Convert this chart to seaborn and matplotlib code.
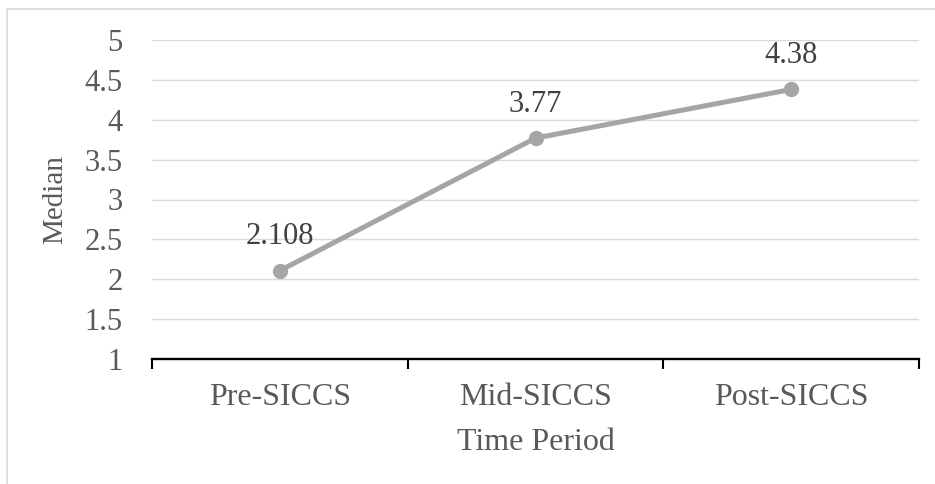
import seaborn as sns
import matplotlib.pyplot as plt
import pandas as pd
from matplotlib.patches import Rectangle
from matplotlib.ticker import FixedLocator

periods = ['Pre-SICCS', 'Mid-SICCS', 'Post-SICCS']
medians = [2.108, 3.77, 4.38]
labels = ['2.108', '3.77', '4.38']
yticks = [1, 1.5, 2, 2.5, 3, 3.5, 4, 4.5, 5]


def draw(image_path):
    sns.set_theme(style="white")
    plt.rcParams['font.family'] = ['Liberation Serif', 'DejaVu Serif']
    text_color = '#595959'
    fs = 23

    df = pd.DataFrame({'period': periods, 'median': medians})

    fig = plt.figure(figsize=(9.35, 4.84), dpi=100)
    ax = fig.add_axes([152 / 935, 1 - 359 / 484, (919 - 152) / 935, (359 - 40) / 484])

    sns.lineplot(data=df, x='period', y='median', ax=ax, color='#A5A5A5',
                 linewidth=3.6, marker='o', markersize=11, markeredgewidth=0,
                 sort=False)

    for i, (v, s) in enumerate(zip(medians, labels)):
        ax.annotate(s, (i, v), xytext=(0, 19), textcoords='offset points',
                    ha='center', va='baseline', fontsize=22, color='#404040')

    ax.set_xlim(-0.5, 2.5)
    ax.set_ylim(1, 5)
    ax.set_yticks(yticks)
    ax.set_yticklabels(['1', '1.5', '2', '2.5', '3', '3.5', '4', '4.5', '5'])
    ax.yaxis.grid(True, color='#D9D9D9', linewidth=1.0)
    ax.set_axisbelow(True)

    for side in ['top', 'right', 'left']:
        ax.spines[side].set_visible(False)
    ax.spines['bottom'].set_color('black')
    ax.spines['bottom'].set_linewidth(1.7)

    ax.xaxis.set_minor_locator(FixedLocator([-0.5, 0.5, 1.5, 2.5]))
    ax.tick_params(axis='x', which='minor', bottom=True, length=7, width=1.5,
                   color='black', direction='out')
    ax.tick_params(axis='x', which='major', bottom=True, length=0, pad=17,
                   labelsize=fs, labelcolor=text_color)
    ax.tick_params(axis='y', which='major', left=False, length=0, pad=21,
                   labelsize=22, labelcolor=text_color)

    ax.set_xlabel('Time Period', fontsize=fs, color=text_color, labelpad=12)
    ax.set_ylabel('Median', fontsize=21, color=text_color, labelpad=12)

    # outer chart border
    fig.patches.append(Rectangle((7 / 935, -0.1), 1.1, 1 - 9 / 484 + 0.1,
                                 transform=fig.transFigure, fill=False,
                                 edgecolor='#D9D9D9', linewidth=1.2))

    plt.savefig(image_path, dpi=100)


if __name__ == '__main__':
    draw('out.png')
